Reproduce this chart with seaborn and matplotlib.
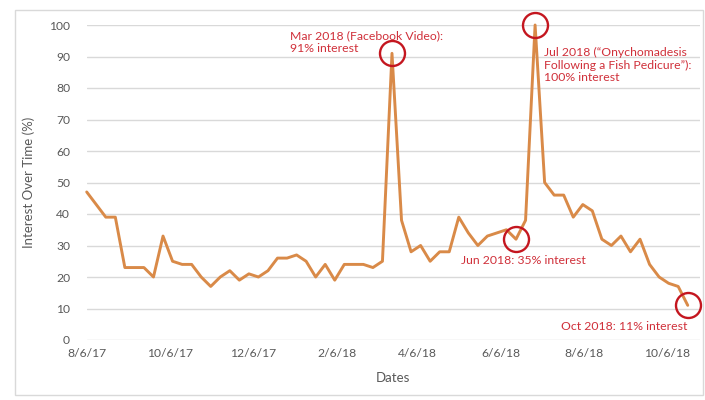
import pandas as pd
import matplotlib.pyplot as plt
import seaborn as sns
from matplotlib.patches import Rectangle

# weekly Google Trends style data, first week 8/6/17
start_date = "2017-08-06"
interest = [47, 43, 39, 39, 23, 23, 23, 20, 33, 25,
            24, 24, 20, 17, 20, 22, 19, 21, 20, 22,
            26, 26, 27, 25, 20, 24, 19, 24, 24, 24,
            23, 25, 91, 38, 28, 30, 25, 28, 28, 39,
            34, 30, 33, 34, 35, 32, 38, 100, 50, 46,
            46, 39, 43, 41, 32, 30, 33, 28, 32, 24,
            20, 18, 17, 11]
tick_labels = ["8/6/17", "10/6/17", "12/6/17", "2/6/18",
               "4/6/18", "6/6/18", "8/6/18", "10/6/18"]
axis_end = "2018-10-30"

# highlighted weeks and their notes
note_weeks = [32, 47, 45, 63]
note_texts = [
    "Mar 2018 (Facebook Video):\n91% interest",
    "Jul 2018 (\u201cOnychomadesis\nFollowing a Fish Pedicure\u201d):\n100% interest",
    "Jun 2018: 35% interest",
    "Oct 2018: 11% interest",
]
note_offsets = [(-102, 11), (9, -40), (-55, -21), (-127, -21)]

dates = pd.date_range(start_date, periods=len(interest), freq="7D")
df = pd.DataFrame({"Dates": dates, "Interest": interest})

sns.set_style("white")
plt.rcParams["font.family"] = ["Lato", "DejaVu Sans"]

grey = "#595959"
line_color = "#D98A48"
circle_color = "#C4161F"
text_color = "#D0303A"

fig = plt.figure(figsize=(7.05, 4.0), dpi=100)
ax = fig.add_axes([86.7 / 705, 60 / 400, (700 - 86.7) / 705, 315 / 400])

sns.lineplot(data=df, x="Dates", y="Interest", ax=ax, color=line_color,
             linewidth=2.1, clip_on=False, zorder=3)

ax.set_ylim(0, 100)
ax.set_yticks(range(0, 101, 10))
ax.set_xlim(pd.Timestamp(start_date), pd.Timestamp(axis_end))
ax.set_xticks(pd.to_datetime(tick_labels, format="%m/%d/%y"))
ax.set_xticklabels(tick_labels)

ax.grid(axis="y", color="#D9D9D9", linewidth=1.0)
ax.grid(axis="x", visible=False)
for s in ax.spines.values():
    s.set_visible(False)
ax.tick_params(axis="both", length=0, colors=grey, labelsize=8.7)
ax.tick_params(axis="y", pad=12)
ax.tick_params(axis="x", pad=6)

ax.set_ylabel("Interest Over Time (%)", color=grey, fontsize=9.5, labelpad=10)
ax.set_xlabel("Dates", color=grey, fontsize=9.5, labelpad=9)

# red circles and notes
for wk, txt, (dx, dy) in zip(note_weeks, note_texts, note_offsets):
    px, py = dates[wk], interest[wk]
    ax.plot([px], [py], marker="o", markersize=18, markerfacecolor="none",
            markeredgecolor=circle_color, markeredgewidth=1.7, clip_on=False, zorder=4)
    ax.annotate(txt, xy=(px, py), xytext=(dx, dy), textcoords="offset pixels",
                ha="left", va="center", color=text_color, fontsize=8.8,
                linespacing=1.2, annotation_clip=False)

# light border round the whole chart
fig.patches.append(Rectangle((15 / 705, 5 / 400), 688 / 705, 385 / 400,
                             transform=fig.transFigure, fill=False,
                             edgecolor="#D9D9D9", linewidth=1.0))

fig.savefig("out.png", dpi=100)
